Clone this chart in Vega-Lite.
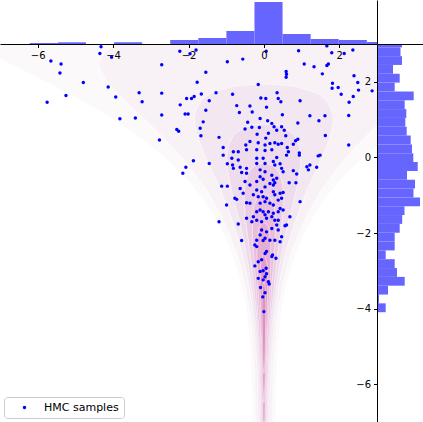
{
"$schema": "https://vega.github.io/schema/vega-lite/v6.json",
"padding": 0,
"autosize": {"type": "pad"},
"background": "white",
"spacing": 0,
"bounds": "flush",
"resolve": {"scale": {"color": "independent", "fill": "independent"}, "legend": {"color": "independent", "fill": "independent"}},
"config": {
  "view": {"stroke": null},
  "font": "DejaVu Sans",
  "concat": {"spacing": 0},
  "axis": {"grid": false, "title": null, "domainColor": "black", "tickColor": "black", "labelColor": "black", "labelFont": "DejaVu Sans", "labelFontSize": 10, "domainWidth": 1, "tickWidth": 1}
},
"datasets": {
  "top": [
    {"x0": -6.21, "x1": -5.465, "h": 1},
    {"x0": -5.465, "x1": -4.72, "h": 1.7},
    {"x0": -3.975, "x1": -3.23, "h": 1.7},
    {"x0": -2.485, "x1": -1.74, "h": 4},
    {"x0": -1.74, "x1": -0.995, "h": 6},
    {"x0": -0.995, "x1": -0.25, "h": 13},
    {"x0": -0.25, "x1": 0.495, "h": 42},
    {"x0": 0.495, "x1": 1.24, "h": 10},
    {"x0": 1.24, "x1": 1.985, "h": 5},
    {"x0": 1.985, "x1": 2.73, "h": 4},
    {"x0": 2.73, "x1": 3.475, "h": 2}
  ],
  "right": [
    {"y0": 2.913, "y1": 3.147, "len": 25},
    {"y0": 2.679, "y1": 2.913, "len": 23.5},
    {"y0": 2.446, "y1": 2.679, "len": 25},
    {"y0": 2.212, "y1": 2.446, "len": 16},
    {"y0": 1.979, "y1": 2.212, "len": 22.7},
    {"y0": 1.745, "y1": 1.979, "len": 17.7},
    {"y0": 1.511, "y1": 1.745, "len": 36.7},
    {"y0": 1.278, "y1": 1.511, "len": 27.7},
    {"y0": 1.044, "y1": 1.278, "len": 29.3},
    {"y0": 0.811, "y1": 1.044, "len": 28.3},
    {"y0": 0.577, "y1": 0.811, "len": 29.7},
    {"y0": 0.343, "y1": 0.577, "len": 33.7},
    {"y0": 0.110, "y1": 0.343, "len": 35},
    {"y0": -0.124, "y1": 0.110, "len": 36.3},
    {"y0": -0.357, "y1": -0.124, "len": 40.7},
    {"y0": -0.591, "y1": -0.357, "len": 30},
    {"y0": -0.825, "y1": -0.591, "len": 38},
    {"y0": -1.058, "y1": -0.825, "len": 36.5},
    {"y0": -1.292, "y1": -1.058, "len": 43},
    {"y0": -1.525, "y1": -1.292, "len": 27.5},
    {"y0": -1.759, "y1": -1.525, "len": 25.2},
    {"y0": -1.993, "y1": -1.759, "len": 22.7},
    {"y0": -2.226, "y1": -1.993, "len": 17.7},
    {"y0": -2.460, "y1": -2.226, "len": 17.7},
    {"y0": -2.693, "y1": -2.460, "len": 8.7},
    {"y0": -2.927, "y1": -2.693, "len": 17.7},
    {"y0": -3.161, "y1": -2.927, "len": 20},
    {"y0": -3.394, "y1": -3.161, "len": 27.7},
    {"y0": -3.628, "y1": -3.394, "len": 11},
    {"y0": -3.861, "y1": -3.628, "len": 2},
    {"y0": -4.095, "y1": -3.861, "len": 8.7}
  ],
  "density": [
    {"level": 0.01, "y": -7, "lo": -0.30, "hi": 0.30},
    {"level": 0.01, "y": -6.5, "lo": -0.31, "hi": 0.31},
    {"level": 0.01, "y": -6, "lo": -0.32, "hi": 0.32},
    {"level": 0.01, "y": -5.5, "lo": -0.34, "hi": 0.34},
    {"level": 0.01, "y": -5, "lo": -0.37, "hi": 0.37},
    {"level": 0.01, "y": -4.5, "lo": -0.41, "hi": 0.41},
    {"level": 0.01, "y": -4, "lo": -0.47, "hi": 0.47},
    {"level": 0.01, "y": -3.5, "lo": -0.57, "hi": 0.57},
    {"level": 0.01, "y": -3, "lo": -0.70, "hi": 0.70},
    {"level": 0.01, "y": -2.5, "lo": -0.87, "hi": 0.87},
    {"level": 0.01, "y": -2, "lo": -1.08, "hi": 1.08},
    {"level": 0.01, "y": -1.5, "lo": -1.36, "hi": 1.36},
    {"level": 0.01, "y": -1, "lo": -1.70, "hi": 1.70},
    {"level": 0.01, "y": -0.5, "lo": -2.12, "hi": 2.12},
    {"level": 0.01, "y": 0, "lo": -2.64, "hi": 2.64},
    {"level": 0.01, "y": 0.5, "lo": -3.26, "hi": 3.26},
    {"level": 0.01, "y": 1, "lo": -3.99, "hi": 3.99},
    {"level": 0.01, "y": 1.5, "lo": -4.83, "hi": 4.83},
    {"level": 0.01, "y": 2, "lo": -5.78, "hi": 5.78},
    {"level": 0.01, "y": 2.5, "lo": -6.77, "hi": 6.77},
    {"level": 0.01, "y": 3, "lo": -7.7, "hi": 7.7},
    {"level": 0.03, "y": -7, "lo": -0.22, "hi": 0.22},
    {"level": 0.03, "y": -6.5, "lo": -0.23, "hi": 0.23},
    {"level": 0.03, "y": -6, "lo": -0.24, "hi": 0.24},
    {"level": 0.03, "y": -5.5, "lo": -0.26, "hi": 0.26},
    {"level": 0.03, "y": -5, "lo": -0.29, "hi": 0.29},
    {"level": 0.03, "y": -4.5, "lo": -0.33, "hi": 0.33},
    {"level": 0.03, "y": -4, "lo": -0.39, "hi": 0.39},
    {"level": 0.03, "y": -3.5, "lo": -0.48, "hi": 0.48},
    {"level": 0.03, "y": -3, "lo": -0.59, "hi": 0.59},
    {"level": 0.03, "y": -2.5, "lo": -0.74, "hi": 0.74},
    {"level": 0.03, "y": -2, "lo": -0.93, "hi": 0.93},
    {"level": 0.03, "y": -1.5, "lo": -1.16, "hi": 1.16},
    {"level": 0.03, "y": -1, "lo": -1.44, "hi": 1.44},
    {"level": 0.03, "y": -0.5, "lo": -1.78, "hi": 1.78},
    {"level": 0.03, "y": 0, "lo": -2.18, "hi": 2.18},
    {"level": 0.03, "y": 0.5, "lo": -2.64, "hi": 2.64},
    {"level": 0.03, "y": 1, "lo": -3.15, "hi": 3.15},
    {"level": 0.03, "y": 1.5, "lo": -3.68, "hi": 3.68},
    {"level": 0.03, "y": 2, "lo": -4.14, "hi": 4.14},
    {"level": 0.03, "y": 2.5, "lo": -4.37, "hi": 4.37},
    {"level": 0.03, "y": 3, "lo": -3.92, "hi": 3.92},
    {"level": 0.1, "y": -7, "lo": -0.15, "hi": 0.15},
    {"level": 0.1, "y": -6.5, "lo": -0.16, "hi": 0.16},
    {"level": 0.1, "y": -6, "lo": -0.17, "hi": 0.17},
    {"level": 0.1, "y": -5.5, "lo": -0.19, "hi": 0.19},
    {"level": 0.1, "y": -5, "lo": -0.22, "hi": 0.22},
    {"level": 0.1, "y": -4.5, "lo": -0.26, "hi": 0.26},
    {"level": 0.1, "y": -4, "lo": -0.31, "hi": 0.31},
    {"level": 0.1, "y": -3.5, "lo": -0.38, "hi": 0.38},
    {"level": 0.1, "y": -3, "lo": -0.47, "hi": 0.47},
    {"level": 0.1, "y": -2.5, "lo": -0.58, "hi": 0.58},
    {"level": 0.1, "y": -2, "lo": -0.73, "hi": 0.73},
    {"level": 0.1, "y": -1.5, "lo": -0.90, "hi": 0.90},
    {"level": 0.1, "y": -1, "lo": -1.09, "hi": 1.09},
    {"level": 0.1, "y": -0.5, "lo": -1.31, "hi": 1.31},
    {"level": 0.1, "y": 0, "lo": -1.54, "hi": 1.54},
    {"level": 0.1, "y": 0.5, "lo": -1.74, "hi": 1.74},
    {"level": 0.1, "y": 1, "lo": -1.84, "hi": 1.84},
    {"level": 0.1, "y": 1.5, "lo": -1.65, "hi": 1.65},
    {"level": 0.1, "y": 1.8, "lo": -1.09, "hi": 1.09},
    {"level": 0.1, "y": 1.9, "lo": -0.61, "hi": 0.61},
    {"level": 0.1, "y": 1.94, "lo": 0, "hi": 0},
    {"level": 0.2, "y": -7, "lo": -0.11, "hi": 0.11},
    {"level": 0.2, "y": -6.5, "lo": -0.12, "hi": 0.12},
    {"level": 0.2, "y": -6, "lo": -0.13, "hi": 0.13},
    {"level": 0.2, "y": -5.5, "lo": -0.15, "hi": 0.15},
    {"level": 0.2, "y": -5, "lo": -0.18, "hi": 0.18},
    {"level": 0.2, "y": -4.5, "lo": -0.21, "hi": 0.21},
    {"level": 0.2, "y": -4, "lo": -0.26, "hi": 0.26},
    {"level": 0.2, "y": -3.5, "lo": -0.32, "hi": 0.32},
    {"level": 0.2, "y": -3, "lo": -0.39, "hi": 0.39},
    {"level": 0.2, "y": -2.5, "lo": -0.48, "hi": 0.48},
    {"level": 0.2, "y": -2, "lo": -0.58, "hi": 0.58},
    {"level": 0.2, "y": -1.5, "lo": -0.70, "hi": 0.70},
    {"level": 0.2, "y": -1, "lo": -0.83, "hi": 0.83},
    {"level": 0.2, "y": -0.5, "lo": -0.93, "hi": 0.93},
    {"level": 0.2, "y": 0, "lo": -0.98, "hi": 0.98},
    {"level": 0.2, "y": 0.5, "lo": -0.85, "hi": 0.85},
    {"level": 0.2, "y": 0.7, "lo": -0.66, "hi": 0.66},
    {"level": 0.2, "y": 0.85, "lo": -0.30, "hi": 0.30},
    {"level": 0.2, "y": 0.88, "lo": 0, "hi": 0},
    {"level": 0.35, "y": -7, "lo": -0.08, "hi": 0.08},
    {"level": 0.35, "y": -6.5, "lo": -0.09, "hi": 0.09},
    {"level": 0.35, "y": -6, "lo": -0.10, "hi": 0.10},
    {"level": 0.35, "y": -5.5, "lo": -0.12, "hi": 0.12},
    {"level": 0.35, "y": -5, "lo": -0.14, "hi": 0.14},
    {"level": 0.35, "y": -4.5, "lo": -0.17, "hi": 0.17},
    {"level": 0.35, "y": -4, "lo": -0.21, "hi": 0.21},
    {"level": 0.35, "y": -3.5, "lo": -0.26, "hi": 0.26},
    {"level": 0.35, "y": -3, "lo": -0.31, "hi": 0.31},
    {"level": 0.35, "y": -2.5, "lo": -0.37, "hi": 0.37},
    {"level": 0.35, "y": -2, "lo": -0.44, "hi": 0.44},
    {"level": 0.35, "y": -1.5, "lo": -0.50, "hi": 0.50},
    {"level": 0.35, "y": -1, "lo": -0.52, "hi": 0.52},
    {"level": 0.35, "y": -0.5, "lo": -0.44, "hi": 0.44},
    {"level": 0.35, "y": -0.3, "lo": -0.32, "hi": 0.32},
    {"level": 0.35, "y": -0.2, "lo": -0.19, "hi": 0.19},
    {"level": 0.35, "y": -0.15, "lo": 0, "hi": 0},
    {"level": 0.5, "y": -7, "lo": -0.055, "hi": 0.055},
    {"level": 0.5, "y": -6.5, "lo": -0.065, "hi": 0.065},
    {"level": 0.5, "y": -6, "lo": -0.075, "hi": 0.075},
    {"level": 0.5, "y": -5.5, "lo": -0.09, "hi": 0.09},
    {"level": 0.5, "y": -5, "lo": -0.11, "hi": 0.11},
    {"level": 0.5, "y": -4.5, "lo": -0.14, "hi": 0.14},
    {"level": 0.5, "y": -4, "lo": -0.17, "hi": 0.17},
    {"level": 0.5, "y": -3.5, "lo": -0.20, "hi": 0.20},
    {"level": 0.5, "y": -3, "lo": -0.24, "hi": 0.24},
    {"level": 0.5, "y": -2.5, "lo": -0.278, "hi": 0.278},
    {"level": 0.5, "y": -2, "lo": -0.306, "hi": 0.306},
    {"level": 0.5, "y": -1.5, "lo": -0.294, "hi": 0.294},
    {"level": 0.5, "y": -1.2, "lo": -0.23, "hi": 0.23},
    {"level": 0.5, "y": -1, "lo": -0.094, "hi": 0.094},
    {"level": 0.5, "y": -0.97, "lo": 0, "hi": 0},
    {"level": 0.65, "y": -7, "lo": -0.03, "hi": 0.03},
    {"level": 0.65, "y": -6.5, "lo": -0.04, "hi": 0.04},
    {"level": 0.65, "y": -6, "lo": -0.05, "hi": 0.05},
    {"level": 0.65, "y": -5.5, "lo": -0.065, "hi": 0.065},
    {"level": 0.65, "y": -5, "lo": -0.08, "hi": 0.08},
    {"level": 0.65, "y": -4.5, "lo": -0.10, "hi": 0.10},
    {"level": 0.65, "y": -4, "lo": -0.125, "hi": 0.125},
    {"level": 0.65, "y": -3.5, "lo": -0.15, "hi": 0.15},
    {"level": 0.65, "y": -3, "lo": -0.175, "hi": 0.175},
    {"level": 0.65, "y": -2.5, "lo": -0.185, "hi": 0.185},
    {"level": 0.65, "y": -2, "lo": -0.151, "hi": 0.151},
    {"level": 0.65, "y": -1.8, "lo": -0.093, "hi": 0.093},
    {"level": 0.65, "y": -1.72, "lo": 0, "hi": 0},
    {"level": 0.8, "y": -6.5, "lo": 0, "hi": 0},
    {"level": 0.8, "y": -6, "lo": -0.03, "hi": 0.03},
    {"level": 0.8, "y": -5.5, "lo": -0.045, "hi": 0.045},
    {"level": 0.8, "y": -5, "lo": -0.06, "hi": 0.06},
    {"level": 0.8, "y": -4.5, "lo": -0.075, "hi": 0.075},
    {"level": 0.8, "y": -4, "lo": -0.09, "hi": 0.09},
    {"level": 0.8, "y": -3.5, "lo": -0.10, "hi": 0.10},
    {"level": 0.8, "y": -3, "lo": -0.099, "hi": 0.099},
    {"level": 0.8, "y": -2.5, "lo": 0, "hi": 0},
    {"level": 0.92, "y": -5.72, "lo": 0, "hi": 0},
    {"level": 0.92, "y": -5.5, "lo": -0.02, "hi": 0.02},
    {"level": 0.92, "y": -5, "lo": -0.035, "hi": 0.035},
    {"level": 0.92, "y": -4.5, "lo": -0.045, "hi": 0.045},
    {"level": 0.92, "y": -4, "lo": -0.05, "hi": 0.05},
    {"level": 0.92, "y": -3.5, "lo": -0.04, "hi": 0.04},
    {"level": 0.92, "y": -3.28, "lo": 0, "hi": 0}
  ],
  "samples": [
    {"x": -4.32, "y": 2.93}, {"x": -4.35, "y": 2.75}, {"x": -4.04, "y": 2.65}, {"x": -5.65, "y": 2.55}, {"x": -5.38, "y": 2.47},
    {"x": -5.41, "y": 2.23}, {"x": -4.79, "y": 1.98}, {"x": -4.13, "y": 1.86}, {"x": -5.25, "y": 1.64}, {"x": -5.75, "y": 1.46},
    {"x": -3.93, "y": 1.60}, {"x": -3.31, "y": 1.71}, {"x": -3.23, "y": 1.47}, {"x": -3.82, "y": 1.02}, {"x": -3.41, "y": 1.04},
    {"x": -2.23, "y": 2.81}, {"x": -1.96, "y": 2.74}, {"x": -1.80, "y": 2.84}, {"x": 0.92, "y": 2.82}, {"x": 1.67, "y": 2.95},
    {"x": 1.80, "y": 2.77}, {"x": 2.13, "y": 2.75}, {"x": 2.36, "y": 2.84}, {"x": 0.06, "y": 2.81}, {"x": -0.56, "y": 2.60},
    {"x": -2.71, "y": 2.45}, {"x": -0.97, "y": 2.53}, {"x": 1.07, "y": 2.47}, {"x": 1.33, "y": 2.40}, {"x": 1.71, "y": 2.47},
    {"x": 1.67, "y": 2.43}, {"x": -1.54, "y": 2.25}, {"x": 0.59, "y": 2.27}, {"x": 0.60, "y": 2.20}, {"x": 0.59, "y": 2.12},
    {"x": 1.55, "y": 2.21}, {"x": 2.39, "y": 2.16}, {"x": -1.77, "y": 1.99}, {"x": -2.71, "y": 1.70}, {"x": -0.15, "y": 1.93},
    {"x": 1.82, "y": 1.96}, {"x": 1.81, "y": 1.83}, {"x": 1.97, "y": 1.85}, {"x": 2.49, "y": 1.98}, {"x": 2.51, "y": 1.78},
    {"x": 2.87, "y": 1.76}, {"x": -1.27, "y": 1.71}, {"x": -0.83, "y": 1.67}, {"x": 0.35, "y": 1.71}, {"x": -1.66, "y": 1.68},
    {"x": -1.85, "y": 1.61}, {"x": -2.05, "y": 1.56}, {"x": -1.92, "y": 1.56}, {"x": 2.05, "y": 1.67}, {"x": -1.45, "y": 1.50},
    {"x": -0.08, "y": 1.57}, {"x": 0.05, "y": 1.56}, {"x": 0.38, "y": 1.56}, {"x": 0.45, "y": 1.47}, {"x": 0.96, "y": 1.50},
    {"x": 2.37, "y": 1.61}, {"x": 2.26, "y": 1.46}, {"x": -2.22, "y": 1.39}, {"x": -0.72, "y": 1.37}, {"x": -0.37, "y": 1.36},
    {"x": 0.07, "y": 1.33}, {"x": -2.71, "y": 1.12}, {"x": -2.09, "y": 1.15}, {"x": -2.01, "y": 1.15}, {"x": -1.54, "y": 1.25},
    {"x": -0.65, "y": 1.19}, {"x": -0.31, "y": 1.20}, {"x": 1.22, "y": 1.10}, {"x": 1.62, "y": 1.10}, {"x": 2.25, "y": 1.11},
    {"x": -1.61, "y": 0.94}, {"x": 1.46, "y": 0.97}, {"x": -0.43, "y": 0.93}, {"x": -0.10, "y": 1.03}, {"x": 0.10, "y": 0.97},
    {"x": 0.21, "y": 0.90}, {"x": -2.31, "y": 0.74}, {"x": -2.26, "y": 0.69}, {"x": -1.69, "y": 0.77}, {"x": -1.67, "y": 0.57},
    {"x": -1.19, "y": 0.53}, {"x": -0.50, "y": 0.75}, {"x": -0.32, "y": 0.80}, {"x": -0.12, "y": 0.79}, {"x": 0.27, "y": 0.81},
    {"x": 0.34, "y": 0.72}, {"x": 0.47, "y": 0.81}, {"x": 0.54, "y": 0.72}, {"x": 0.58, "y": 0.57}, {"x": -0.18, "y": 0.61},
    {"x": 0.12, "y": 0.64}, {"x": 0.05, "y": 0.51}, {"x": 1.63, "y": 0.58}, {"x": 0.47, "y": 0.37}, {"x": 0.78, "y": 0.35},
    {"x": 0.84, "y": 0.44}, {"x": 0.90, "y": 0.48}, {"x": 0.03, "y": 0.33}, {"x": 0.16, "y": 0.37}, {"x": 0.29, "y": 0.39},
    {"x": 0.38, "y": 0.35}, {"x": -0.15, "y": 0.39}, {"x": -0.37, "y": 0.42}, {"x": -0.48, "y": 0.33}, {"x": -1.08, "y": 0.26},
    {"x": 0.62, "y": 0.26}, {"x": 2.25, "y": 0.33}, {"x": -2.77, "y": 0.46}, {"x": 0.49, "y": 1.13}, {"x": 0.90, "y": 0.91},
    {"x": -1.08, "y": 0.06}, {"x": -0.81, "y": 0.15}, {"x": -0.68, "y": 0.15}, {"x": -0.46, "y": 0.20}, {"x": -0.19, "y": 0.20},
    {"x": 0.03, "y": 0.18}, {"x": 0.21, "y": 0.20}, {"x": 0.65, "y": 0.15}, {"x": 0.94, "y": 0.12}, {"x": 0.94, "y": 0.06},
    {"x": -0.85, "y": -0.02}, {"x": -0.68, "y": -0.07}, {"x": -0.19, "y": -0.02}, {"x": -0.02, "y": -0.02}, {"x": 0.34, "y": 0.00},
    {"x": 0.60, "y": 0.06}, {"x": 1.44, "y": 0.04}, {"x": 1.49, "y": 0.06}, {"x": -1.87, "y": -0.09}, {"x": -1.45, "y": -0.16},
    {"x": -2.07, "y": -0.26}, {"x": -2.15, "y": -0.42}, {"x": -0.97, "y": -0.17}, {"x": -0.83, "y": -0.20}, {"x": -0.63, "y": -0.26},
    {"x": -0.46, "y": -0.29}, {"x": -0.81, "y": -0.29}, {"x": -0.59, "y": -0.40}, {"x": -0.46, "y": -0.42}, {"x": -0.19, "y": -0.16},
    {"x": 0.03, "y": -0.16}, {"x": 0.25, "y": -0.11}, {"x": 0.29, "y": -0.20}, {"x": 0.43, "y": -0.17}, {"x": 0.47, "y": -0.29},
    {"x": 0.51, "y": -0.38}, {"x": 0.03, "y": -0.38}, {"x": -0.10, "y": -0.33}, {"x": 0.78, "y": -0.35}, {"x": 0.87, "y": -0.44},
    {"x": 1.14, "y": -0.25}, {"x": 1.22, "y": -0.20}, {"x": 1.40, "y": -0.26}, {"x": 1.18, "y": -0.33}, {"x": 0.21, "y": -0.47},
    {"x": -0.10, "y": -0.51}, {"x": -0.02, "y": -0.58}, {"x": 0.25, "y": -0.60}, {"x": 0.29, "y": -0.67}, {"x": 0.25, "y": -0.73},
    {"x": 0.16, "y": -0.69}, {"x": 0.34, "y": -0.55}, {"x": -0.19, "y": -0.64}, {"x": -0.37, "y": -0.73}, {"x": -0.50, "y": -0.64},
    {"x": -0.63, "y": -0.82}, {"x": -0.55, "y": -0.95}, {"x": -1.12, "y": -0.76}, {"x": -0.97, "y": -0.76}, {"x": 0.67, "y": -0.67},
    {"x": 0.85, "y": -0.67}, {"x": -0.19, "y": -0.86}, {"x": 0.03, "y": -0.78}, {"x": -0.06, "y": -0.91}, {"x": -0.28, "y": -0.99},
    {"x": -0.15, "y": -1.04}, {"x": -0.02, "y": -1.04}, {"x": 0.07, "y": -1.08}, {"x": 0.25, "y": -0.91}, {"x": 0.43, "y": -0.95},
    {"x": 0.51, "y": -0.93}, {"x": 0.29, "y": -0.99}, {"x": 0.47, "y": -1.08}, {"x": -0.77, "y": -1.08}, {"x": -0.72, "y": -1.11},
    {"x": -0.46, "y": -1.20}, {"x": -0.99, "y": -1.26}, {"x": 0.96, "y": -1.17}, {"x": -0.37, "y": -1.21}, {"x": -0.10, "y": -1.21},
    {"x": 0.03, "y": -1.17}, {"x": 0.16, "y": -1.21}, {"x": 0.25, "y": -1.26}, {"x": 0.38, "y": -1.13}, {"x": 0.43, "y": -1.35},
    {"x": 0.51, "y": -1.39}, {"x": 0.38, "y": -1.44}, {"x": 0.25, "y": -1.48}, {"x": 0.12, "y": -1.44}, {"x": -0.02, "y": -1.44},
    {"x": -0.10, "y": -1.39}, {"x": -0.19, "y": -1.44}, {"x": 0.03, "y": -1.52}, {"x": -0.28, "y": -1.57}, {"x": -0.32, "y": -1.70},
    {"x": -0.19, "y": -1.66}, {"x": -0.06, "y": -1.70}, {"x": 0.07, "y": -1.61}, {"x": 0.21, "y": -1.57}, {"x": 0.29, "y": -1.66},
    {"x": 0.38, "y": -1.66}, {"x": 0.69, "y": -1.57}, {"x": -1.19, "y": -1.70}, {"x": -0.68, "y": -1.76}, {"x": -0.46, "y": -1.61},
    {"x": 0.34, "y": -1.79}, {"x": 0.38, "y": -1.92}, {"x": 0.21, "y": -1.88}, {"x": 0.07, "y": -1.97}, {"x": -0.06, "y": -1.92},
    {"x": 0.60, "y": -1.79}, {"x": 0.47, "y": -2.10}, {"x": 0.43, "y": -2.23}, {"x": 0.29, "y": -2.19}, {"x": 0.16, "y": -2.19},
    {"x": 0.03, "y": -2.14}, {"x": -0.02, "y": -2.20}, {"x": -0.10, "y": -2.05}, {"x": -0.19, "y": -2.19}, {"x": -0.24, "y": -2.32},
    {"x": -0.19, "y": -2.36}, {"x": -0.59, "y": -2.20}, {"x": 0.56, "y": -1.81},
    {"x": 0.03, "y": -2.54}, {"x": 0.07, "y": -2.49}, {"x": 0.23, "y": -2.58}, {"x": 0.32, "y": -2.67}, {"x": -0.06, "y": -2.71},
    {"x": -0.15, "y": -2.76}, {"x": -0.24, "y": -2.87}, {"x": -0.10, "y": -3.02}, {"x": -0.02, "y": -3.00}, {"x": 0.06, "y": -2.93},
    {"x": 0.07, "y": -3.08}, {"x": 0.03, "y": -3.16}, {"x": -0.02, "y": -3.24}, {"x": -0.15, "y": -3.20}, {"x": 0.12, "y": -3.29},
    {"x": 0.14, "y": -3.35}, {"x": -0.09, "y": -3.44}, {"x": 0.03, "y": -3.58}, {"x": -0.03, "y": -3.69}, {"x": 0.00, "y": -4.08},
    {"x": 0.21, "y": -2.62}
  ]
},
"vconcat": [
  {
    "width": 377,
    "height": 44,
    "data": {"name": "top"},
    "mark": {"type": "rect", "fill": "#6666ff", "clip": true},
    "encoding": {
      "x": {"field": "x0", "type": "quantitative", "scale": {"domain": [-7, 3], "nice": false, "zero": false}, "axis": null},
      "x2": {"field": "x1"},
      "y": {"field": "h", "type": "quantitative", "scale": {"domain": [0, 44], "nice": false}, "axis": {"orient": "right", "ticks": false, "labels": false, "zindex": 1}},
      "y2": {"datum": 0}
    }
  },
  {
    "spacing": 0,
    "bounds": "flush",
    "resolve": {"scale": {"color": "independent", "fill": "independent"}, "legend": {"color": "independent", "fill": "independent"}},
    "hconcat": [
      {
        "width": 377,
        "height": 378,
        "layer": [
          {
            "data": {"name": "density"},
            "mark": {"type": "area", "orient": "horizontal", "clip": true, "stroke": "white", "strokeWidth": 0.6, "strokeOpacity": 0.8, "interpolate": "monotone"},
            "encoding": {
              "y": {"field": "y", "type": "quantitative", "scale": {"domain": [-7, 3], "nice": false, "zero": false},
                    "axis": {"orient": "left", "offset": -377, "values": [-6, -4, -2, 0, 2], "tickSize": 3.5, "labelPadding": 3, "labelOverlap": false, "zindex": 1}},
              "x": {"field": "lo", "type": "quantitative", "scale": {"domain": [-7, 3], "nice": false, "zero": false},
                    "axis": {"orient": "bottom", "offset": -378, "values": [-6, -4, -2, 0, 2], "tickSize": 3.5, "labelPadding": 3, "labelFlush": false, "labelOverlap": false, "zindex": 1}},
              "x2": {"field": "hi"},
              "fill": {"field": "level", "type": "ordinal",
                       "scale": {"domain": [0.01, 0.03, 0.1, 0.2, 0.35, 0.5, 0.65, 0.8, 0.92],
                                 "range": ["#fcf9fb", "#f8f2f7", "#f3e8f1", "#eedcec", "#eacde4", "#e8bedc", "#e6aed2", "#e29ec8", "#de90be"]},
                       "legend": null}
            }
          },
          {
            "data": {"name": "samples"},
            "mark": {"type": "circle", "size": 12, "opacity": 1, "clip": true},
            "encoding": {
              "x": {"field": "x", "type": "quantitative", "scale": {"domain": [-7, 3], "nice": false, "zero": false},
                    "axis": {"orient": "bottom", "offset": -378, "values": [-6, -4, -2, 0, 2], "tickSize": 3.5, "labelPadding": 3, "labelFlush": false, "labelOverlap": false, "zindex": 1}},
              "y": {"field": "y", "type": "quantitative", "scale": {"domain": [-7, 3], "nice": false, "zero": false},
                    "axis": {"orient": "left", "offset": -377, "values": [-6, -4, -2, 0, 2], "tickSize": 3.5, "labelPadding": 3, "labelOverlap": false, "zindex": 1}},
              "color": {"datum": "HMC samples", "type": "nominal", "scale": {"range": ["blue"]},
                        "legend": {"title": null, "orient": "bottom-left", "offset": 4, "padding": 5, "strokeColor": "#cccccc", "fillColor": "rgba(255,255,255,0.8)", "cornerRadius": 3, "symbolOffset": 10, "labelOffset": 14, "labelFontSize": 11, "labelFont": "DejaVu Sans", "labelColor": "black", "symbolSize": 12, "symbolType": "circle", "symbolStrokeWidth": 0}}
            }
          }
        ]
      },
      {
        "width": 46,
        "height": 378,
        "data": {"name": "right"},
        "mark": {"type": "rect", "fill": "#6666ff", "clip": true},
        "encoding": {
          "y": {"field": "y0", "type": "quantitative", "scale": {"domain": [-7, 3], "nice": false, "zero": false}, "axis": {"orient": "left", "ticks": false, "labels": false, "zindex": 1}},
          "y2": {"field": "y1"},
          "x": {"field": "len", "type": "quantitative", "scale": {"domain": [0, 46], "nice": false}, "axis": {"orient": "top", "ticks": false, "labels": false, "zindex": 1}},
          "x2": {"datum": 0}
        }
      }
    ]
  }
]
}
